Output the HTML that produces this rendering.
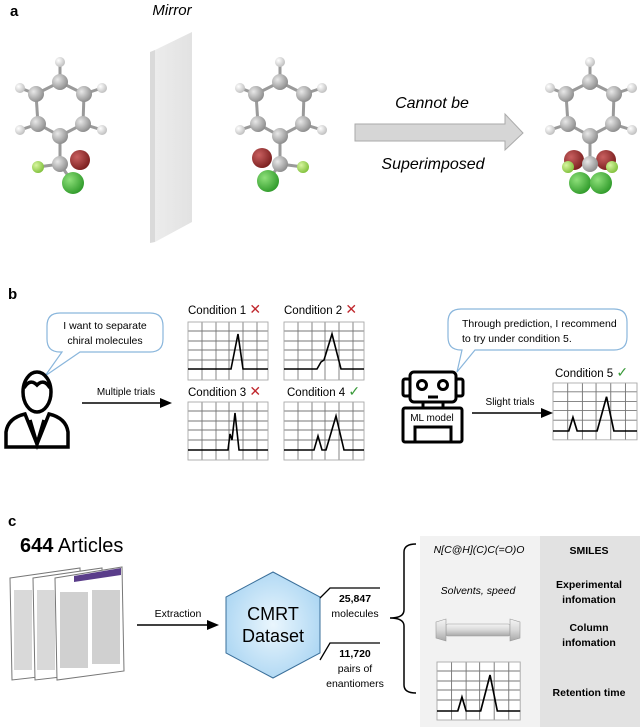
<!DOCTYPE html>
<html><head><meta charset="utf-8"><style>
body{margin:0;background:#fff}
svg{display:block;font-family:"Liberation Sans",Arial,sans-serif}
</style></head><body>
<svg width="640" height="727" viewBox="0 0 640 727" xmlns="http://www.w3.org/2000/svg">
<defs>
<radialGradient id="gC" cx="0.35" cy="0.35" r="0.7"><stop offset="0" stop-color="#e8e8e8"/><stop offset="1" stop-color="#8a8a8a"/></radialGradient>
<radialGradient id="gH" cx="0.35" cy="0.35" r="0.7"><stop offset="0" stop-color="#ffffff"/><stop offset="1" stop-color="#bdbdbd"/></radialGradient>
<radialGradient id="gO" cx="0.35" cy="0.35" r="0.7"><stop offset="0" stop-color="#c96060"/><stop offset="1" stop-color="#7a1e1e"/></radialGradient>
<radialGradient id="gF" cx="0.35" cy="0.35" r="0.7"><stop offset="0" stop-color="#d8f5a0"/><stop offset="1" stop-color="#7fc03a"/></radialGradient>
<radialGradient id="gCl" cx="0.35" cy="0.35" r="0.7"><stop offset="0" stop-color="#8ee07a"/><stop offset="1" stop-color="#2f9a2a"/></radialGradient>
<linearGradient id="mir" x1="0" x2="1"><stop offset="0" stop-color="#ececec"/><stop offset="1" stop-color="#e2e2e2"/></linearGradient>
<linearGradient id="col" x1="0" y1="0" x2="0" y2="1"><stop offset="0" stop-color="#f4f4f4"/><stop offset="0.5" stop-color="#d8d8d8"/><stop offset="1" stop-color="#a8a8a8"/></linearGradient>
<radialGradient id="hex" cx="0.5" cy="0.5" r="0.6"><stop offset="0" stop-color="#eaf6fd"/><stop offset="1" stop-color="#a8d4f2"/></radialGradient>
<g id="mol">
 <g stroke="#9a9a9a" stroke-width="3">
  <line x1="0" y1="-58" x2="0" y2="-78"/>
  <line x1="0" y1="-58" x2="-24" y2="-46"/><line x1="0" y1="-58" x2="24" y2="-46"/>
  <line x1="-24" y1="-46" x2="-22" y2="-16"/><line x1="24" y1="-46" x2="23" y2="-16"/>
  <line x1="-22" y1="-16" x2="0" y2="-4"/><line x1="23" y1="-16" x2="0" y2="-4"/>
  <line x1="-24" y1="-46" x2="-40" y2="-52"/><line x1="24" y1="-46" x2="42" y2="-52"/>
  <line x1="-22" y1="-16" x2="-40" y2="-10"/><line x1="23" y1="-16" x2="42" y2="-10"/>
  <line x1="0" y1="-4" x2="0" y2="24"/>
 </g>
 <circle cx="0" cy="-78" r="5" fill="url(#gH)"/>
 <circle cx="-40" cy="-52" r="5" fill="url(#gH)"/><circle cx="42" cy="-52" r="5" fill="url(#gH)"/>
 <circle cx="-40" cy="-10" r="5" fill="url(#gH)"/><circle cx="42" cy="-10" r="5" fill="url(#gH)"/>
 <circle cx="0" cy="-58" r="8" fill="url(#gC)"/>
 <circle cx="-24" cy="-46" r="8" fill="url(#gC)"/><circle cx="24" cy="-46" r="8" fill="url(#gC)"/>
 <circle cx="-22" cy="-16" r="8" fill="url(#gC)"/><circle cx="23" cy="-16" r="8" fill="url(#gC)"/>
 <circle cx="0" cy="-4" r="8" fill="url(#gC)"/>
</g>
<g id="grid" stroke="#777" stroke-width="0.9">
 <line x1="0" y1="9" x2="80" y2="9"/><line x1="0" y1="19" x2="80" y2="19"/><line x1="0" y1="28" x2="80" y2="28"/><line x1="0" y1="38" x2="80" y2="38"/>
 <line x1="14" y1="0" x2="14" y2="58"/><line x1="28" y1="0" x2="28" y2="58"/><line x1="41" y1="0" x2="41" y2="58"/><line x1="55" y1="0" x2="55" y2="58"/><line x1="69" y1="0" x2="69" y2="58"/>
 <rect x="0" y="0" width="80" height="58" fill="none" stroke="#aaa"/>
</g>
</defs>

<!-- Panel a -->
<text x="10" y="16" font-size="15" font-weight="bold">a</text>
<text x="172" y="15" font-size="15" font-style="italic" text-anchor="middle">Mirror</text>
<polygon points="150,52 155,50 155,242 150,243" fill="#dadada"/>
<polygon points="155,50 192,32 192,222 155,242" fill="url(#mir)"/>

<g transform="translate(60,140)"><use href="#mol"/>
 <line x1="0" y1="24" x2="-22" y2="27" stroke="#9a9a9a" stroke-width="3"/>
 <line x1="0" y1="24" x2="13" y2="43" stroke="#9a9a9a" stroke-width="3"/>
 <circle cx="20" cy="20" r="10" fill="url(#gO)"/>
 <circle cx="0" cy="24" r="8" fill="url(#gC)"/>
 <circle cx="-22" cy="27" r="6" fill="url(#gF)"/>
 <circle cx="13" cy="43" r="11" fill="url(#gCl)"/>
</g>
<g transform="translate(280,140)"><use href="#mol"/>
 <line x1="0" y1="24" x2="23" y2="27" stroke="#9a9a9a" stroke-width="3"/>
 <line x1="0" y1="24" x2="-12" y2="41" stroke="#9a9a9a" stroke-width="3"/>
 <circle cx="-18" cy="18" r="10" fill="url(#gO)"/>
 <circle cx="0" cy="24" r="8" fill="url(#gC)"/>
 <circle cx="23" cy="27" r="6" fill="url(#gF)"/>
 <circle cx="-12" cy="41" r="11" fill="url(#gCl)"/>
</g>
<g transform="translate(590,140)"><use href="#mol"/>
 <circle cx="-16" cy="20" r="10" fill="url(#gO)"/><circle cx="16" cy="20" r="10" fill="url(#gO)"/>
 <circle cx="-22" cy="27" r="6" fill="url(#gF)"/><circle cx="22" cy="27" r="6" fill="url(#gF)"/>
 <circle cx="0" cy="24" r="8" fill="url(#gC)"/>
 <circle cx="-10" cy="43" r="11" fill="url(#gCl)"/><circle cx="11" cy="43" r="11" fill="url(#gCl)"/>
</g>
<polygon points="355,124 505,124 505,114 523,133 505,150 505,141 355,141" fill="#d6d6d6" stroke="#aaa"/>
<text x="432" y="108" font-size="16" font-style="italic" text-anchor="middle">Cannot  be</text>
<text x="433" y="169" font-size="16" font-style="italic" text-anchor="middle">Superimposed</text>

<!-- Panel b -->
<text x="8" y="299" font-size="15" font-weight="bold">b</text>
<path d="M65,313 H150 Q163,313 163,326 V339 Q163,352 150,352 H80 L45,376 L62,352 H60 Q47,352 47,339 V326 Q47,313 60,313 Z" fill="#fff" stroke="#8ab6dc" stroke-width="1.2"/>
<text x="105" y="329" font-size="10.5" text-anchor="middle">I want to separate</text>
<text x="105" y="344" font-size="10.5" text-anchor="middle">chiral molecules</text>
<!-- person -->
<g fill="none" stroke="#000" stroke-width="3.5">
 <ellipse cx="37" cy="392" rx="14" ry="20"/>
 <path d="M24,388 Q30,378 37,385 Q44,378 50,388"/>
 <path d="M6,447 V432 Q8,418 25,414 L37,444 L49,414 Q66,418 68,432 V447 Z"/>
 <path d="M30,420 L37,444 L44,420"/>
</g>
<line x1="82" y1="403" x2="164" y2="403" stroke="#000" stroke-width="1.5"/>
<polygon points="172,403 160,398 160,408" fill="#000"/>
<text x="126" y="395" font-size="10" text-anchor="middle">Multiple trials</text>

<g font-size="11.5">
<text x="188" y="314">Condition 1 <tspan fill="#c0272d" font-size="14">✕</tspan></text>
<text x="284" y="314">Condition 2 <tspan fill="#c0272d" font-size="14">✕</tspan></text>
<text x="188" y="396">Condition 3 <tspan fill="#c0272d" font-size="14">✕</tspan></text>
<text x="287" y="396">Condition 4 <tspan fill="#3a9a3a" font-size="14">✓</tspan></text>
<text x="555" y="377">Condition 5 <tspan fill="#3a9a3a" font-size="14">✓</tspan></text>
</g>
<g transform="translate(188,322)"><use href="#grid"/><polyline points="0,47 43,47 50,12 55,47 80,47" fill="none" stroke="#000" stroke-width="1.6"/></g>
<g transform="translate(284,322)"><use href="#grid"/><polyline points="0,47 33,47 37,40 40,38 48,12 57,47 80,47" fill="none" stroke="#000" stroke-width="1.6"/></g>
<g transform="translate(188,402)"><use href="#grid"/><polyline points="0,48 40,48 42,32 44,38 47,11 51,48 80,48" fill="none" stroke="#000" stroke-width="1.6"/></g>
<g transform="translate(284,402)"><use href="#grid"/><polyline points="0,48 30,48 34,34 38,48 42,48 52,14 60,48 80,48" fill="none" stroke="#000" stroke-width="1.6"/></g>
<g transform="translate(553,383) scale(1.05,0.98)"><use href="#grid"/><polyline points="0,49 15,49 19,35 23,49 42,49 51,14 58,49 80,49" fill="none" stroke="#000" stroke-width="1.6"/></g>

<path d="M461,309 H614 Q627,309 627,322 V337 Q627,350 614,350 H475 L457,372 L462,350 H461 Q448,350 448,337 V322 Q448,309 461,309 Z" fill="#fff" stroke="#8ab6dc" stroke-width="1.2"/>
<text x="462" y="327" font-size="10.5">Through prediction, I recommend</text>
<text x="462" y="342" font-size="10.5">to try under condition 5.</text>
<!-- robot -->
<g fill="none" stroke="#000" stroke-width="3">
 <rect x="410" y="372" width="46" height="30" rx="4"/>
 <rect x="403" y="379" width="7" height="17" rx="2"/>
 <rect x="456" y="379" width="7" height="17" rx="2"/>
 <circle cx="422" cy="385" r="4.5"/><circle cx="443" cy="385" r="4.5"/>
 <line x1="428" y1="397" x2="438" y2="397"/>
 <line x1="423" y1="402" x2="423" y2="408"/><line x1="443" y1="402" x2="443" y2="408"/>
 <rect x="403" y="408" width="59" height="34" rx="2"/>
 <rect x="415" y="427" width="36" height="15"/>
</g>
<text x="432" y="421" font-size="10" text-anchor="middle">ML model</text>
<line x1="472" y1="413" x2="545" y2="413" stroke="#000" stroke-width="1.5"/>
<polygon points="553,413 541,408 541,418" fill="#000"/>
<text x="510" y="405" font-size="10" text-anchor="middle">Slight trials</text>

<!-- Panel c -->
<text x="8" y="526" font-size="15" font-weight="bold">c</text>
<text x="20" y="552" font-size="20"><tspan font-weight="bold">644</tspan> Articles</text>
<g>
 <polygon points="10,578 80,568 82,672 12,680" fill="#fff" stroke="#777"/>
 <polygon points="33,578 102,568 104,672 35,680" fill="#fff" stroke="#777"/>
 <polygon points="55,578 122,567 124,671 57,680" fill="#fff" stroke="#777"/>
 <polygon points="74,576 121,568 121,575 74,582" fill="#5a3d8a"/>
 <g fill="#d0d0d0">
  <rect x="14" y="590" width="18" height="80" opacity="0.8"/>
  <rect x="37" y="590" width="18" height="80" opacity="0.8"/>
  <rect x="60" y="592" width="28" height="76"/>
  <rect x="92" y="590" width="28" height="74"/>
 </g>
</g>
<line x1="137" y1="625" x2="211" y2="625" stroke="#000" stroke-width="1.5"/>
<polygon points="219,625 207,620 207,630" fill="#000"/>
<text x="178" y="617" font-size="10.5" text-anchor="middle">Extraction</text>
<polygon points="273,572 320,597 320,653 273,678 226,653 226,597" fill="url(#hex)" stroke="#3a6f9a" stroke-width="1"/>
<text x="273" y="620" font-size="18" text-anchor="middle">CMRT</text>
<text x="273" y="642" font-size="18" text-anchor="middle">Dataset</text>
<polyline points="320,598 330,588 380,588" fill="none" stroke="#000" stroke-width="1.3"/>
<polyline points="320,660 330,643 380,643" fill="none" stroke="#000" stroke-width="1.3"/>
<text x="355" y="602" font-size="10.5" font-weight="bold" text-anchor="middle">25,847</text>
<text x="355" y="617" font-size="10.5" text-anchor="middle">molecules</text>
<text x="355" y="657" font-size="10.5" font-weight="bold" text-anchor="middle">11,720</text>
<text x="355" y="672" font-size="10.5" text-anchor="middle">pairs of</text>
<text x="355" y="687" font-size="10.5" text-anchor="middle">enantiomers</text>
<path d="M416,544 Q404,544 404,552 V610 Q404,618 390,618 Q404,618 404,626 V685 Q404,693 416,693" fill="none" stroke="#000" stroke-width="1.5"/>
<rect x="420" y="536" width="120" height="191" fill="#f2f2f2"/>
<rect x="540" y="536" width="100" height="191" fill="#e2e2e2"/>
<text x="479" y="553" font-size="10.5" font-style="italic" text-anchor="middle">N[C@H](C)C(=O)O</text>
<text x="589" y="554" font-size="10.5" font-weight="bold" text-anchor="middle">SMILES</text>
<text x="478" y="594" font-size="10.5" font-style="italic" text-anchor="middle">Solvents, speed</text>
<text x="589" y="588" font-size="10.5" font-weight="bold" text-anchor="middle">Experimental</text>
<text x="589" y="603" font-size="10.5" font-weight="bold" text-anchor="middle">infomation</text>
<text x="589" y="631" font-size="10.5" font-weight="bold" text-anchor="middle">Column</text>
<text x="589" y="646" font-size="10.5" font-weight="bold" text-anchor="middle">infomation</text>
<text x="589" y="696" font-size="10.5" font-weight="bold" text-anchor="middle">Retention time</text>
<g fill="url(#col)" stroke="#999" stroke-width="0.6">
 <rect x="446" y="624" width="64" height="12" rx="2"/>
 <polygon points="436,622 446,619 446,641 436,638"/>
 <polygon points="510,619 520,622 520,638 510,641"/>
</g>
<g transform="translate(437,662) scale(1.04,1.0)"><rect x="0" y="0" width="80" height="58" fill="#fff"/><use href="#grid"/><polyline points="0,49 20,49 24,35 28,49 42,49 51,13 58,49 80,49" fill="none" stroke="#000" stroke-width="1.6"/></g>
</svg>
</body></html>
